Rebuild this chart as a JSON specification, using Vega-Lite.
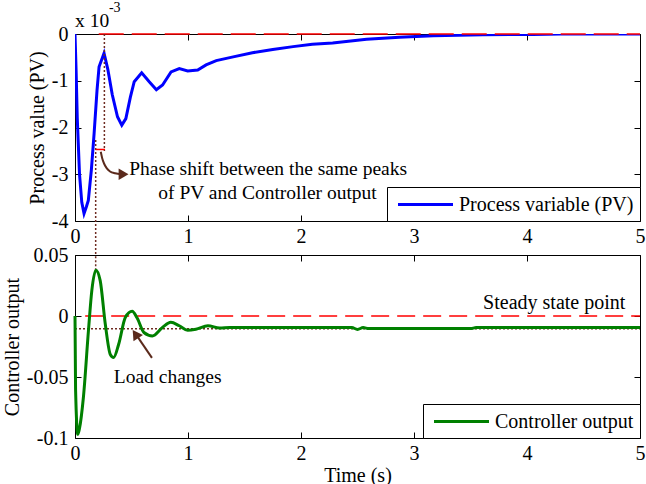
{
  "$schema": "https://vega.github.io/schema/vega-lite/v6.json",
  "background": "white",
  "padding": {"left": 1, "top": 0, "right": 0, "bottom": 0},
  "bounds": "flush",
  "spacing": 34,
  "config": {
    "view": {"stroke": "black", "strokeWidth": 1},
    "font": "Liberation Serif",
    "axis": {
      "labelFont": "Liberation Serif", "titleFont": "Liberation Serif",
      "labelFontSize": 20, "titleFontSize": 20, "titleFontWeight": "normal",
      "labelColor": "black", "titleColor": "black", "tickColor": "black",
      "domain": false, "grid": false, "tickSize": -6, "labelPadding": 13, "titlePadding": 4,
      "labelFlush": false, "labelOverlap": false
    },
    "legend": {
      "orient": "bottom-right", "offset": 0, "fillColor": "white", "strokeColor": "black",
      "padding": 6, "labelFont": "Liberation Serif", "labelFontSize": 20, "labelColor": "black",
      "symbolType": "M-2.75,0H2.75", "symbolStrokeWidth": 3, "symbolSize": 400, "symbolOffset": 21,
      "labelOffset": 22, "cornerRadius": 0, "labelLimit": 400
    }
  },
  "resolve": {"scale": {"color": "independent"}, "legend": {"color": "independent"}},
  "datasets": {
    "pv": [
      {"t": 0, "v": 0}, {"t": 0.01, "v": -0.0008}, {"t": 0.02, "v": -0.0018}, {"t": 0.04, "v": -0.003},
      {"t": 0.06, "v": -0.0036}, {"t": 0.08, "v": -0.00384}, {"t": 0.1, "v": -0.0037}, {"t": 0.118, "v": -0.00356},
      {"t": 0.145, "v": -0.0029}, {"t": 0.169, "v": -0.00213}, {"t": 0.195, "v": -0.0012}, {"t": 0.213, "v": -0.0007},
      {"t": 0.257, "v": -0.00041}, {"t": 0.29, "v": -0.00075}, {"t": 0.33, "v": -0.0013}, {"t": 0.376, "v": -0.00177},
      {"t": 0.414, "v": -0.00195}, {"t": 0.45, "v": -0.00181}, {"t": 0.49, "v": -0.00135}, {"t": 0.524, "v": -0.00102},
      {"t": 0.59, "v": -0.00083}, {"t": 0.657, "v": -0.00102}, {"t": 0.72, "v": -0.00119}, {"t": 0.775, "v": -0.00109},
      {"t": 0.85, "v": -0.00081}, {"t": 0.923, "v": -0.00074}, {"t": 0.997, "v": -0.00079}, {"t": 1.086, "v": -0.00077},
      {"t": 1.16, "v": -0.00066}, {"t": 1.25, "v": -0.00057}, {"t": 1.4, "v": -0.00049}, {"t": 1.57, "v": -0.0004},
      {"t": 1.75, "v": -0.00033}, {"t": 1.93, "v": -0.00027}, {"t": 2.1, "v": -0.00022}, {"t": 2.28, "v": -0.00019},
      {"t": 2.58, "v": -0.00011}, {"t": 2.87, "v": -0.00007}, {"t": 3.17, "v": -0.00004}, {"t": 3.61, "v": -0.000015},
      {"t": 4.05, "v": -0.00001}, {"t": 4.3, "v": 0}, {"t": 5, "v": 0}
    ],
    "co": [
      {"t": 0, "v": 0}, {"t": 0.005, "v": -0.06}, {"t": 0.025, "v": -0.097}, {"t": 0.04, "v": -0.092},
      {"t": 0.074, "v": -0.067}, {"t": 0.119, "v": -0.012}, {"t": 0.149, "v": 0.021}, {"t": 0.185, "v": 0.0376},
      {"t": 0.223, "v": 0.029}, {"t": 0.268, "v": -0.0066}, {"t": 0.3125, "v": -0.0315}, {"t": 0.342, "v": -0.034},
      {"t": 0.387, "v": -0.023}, {"t": 0.446, "v": -0.001}, {"t": 0.506, "v": 0.0039}, {"t": 0.55, "v": -0.0017},
      {"t": 0.61, "v": -0.0135}, {"t": 0.685, "v": -0.0163}, {"t": 0.774, "v": -0.0094}, {"t": 0.848, "v": -0.0052},
      {"t": 0.923, "v": -0.008}, {"t": 0.997, "v": -0.0116}, {"t": 1.07, "v": -0.0108}, {"t": 1.176, "v": -0.008},
      {"t": 1.28, "v": -0.0099}, {"t": 1.369, "v": -0.0094}, {"t": 2.45, "v": -0.0095}, {"t": 2.5, "v": -0.011},
      {"t": 2.55, "v": -0.0095}, {"t": 2.6, "v": -0.0103}, {"t": 3.5, "v": -0.0103}, {"t": 3.55, "v": -0.0095},
      {"t": 5, "v": -0.0095}
    ],
    "topSetpoint": [{"t1": 0.21, "t2": 5, "v": 0}],
    "topDotted": [{"t": 0.26, "v1": 0, "v2": -0.0025}, {"t": 0.183, "v1": -0.00227, "v2": -0.00475}],
    "phaseBar": [{"t1": 0.183, "t2": 0.266, "v": -0.00247}],
    "phaseArrow": [
      {"i": 1, "t": 0.228, "v": -0.00252}, {"i": 2, "t": 0.24, "v": -0.00265}, {"i": 3, "t": 0.257, "v": -0.00277},
      {"i": 4, "t": 0.28, "v": -0.00287}, {"i": 5, "t": 0.31, "v": -0.00294}, {"i": 6, "t": 0.355, "v": -0.00298},
      {"i": 7, "t": 0.41, "v": -0.003}
    ],
    "phaseHead": [{"t": 0.43, "v": -0.003}],
    "phaseText": [
      {"t": 0.48, "v": -0.00289, "text": "Phase shift between the same peaks"},
      {"t": 0.737, "v": -0.0034, "text": "of PV and Controller output"}
    ],
    "multText": [{"t": 0, "v": 0.00027, "text": "x 10"}],
    "expText": [{"t": 0.3, "v": 0.00056, "text": "-3"}],
    "botSetpoint": [{"t1": 0.09, "t2": 5, "v": 0}],
    "botLoad": [{"t1": 0, "t2": 5, "v": -0.0105}],
    "botDotted": [{"t": 0.183, "v1": 0.0376, "v2": 0.05}],
    "loadArrow": [{"i": 1, "t": 0.681, "v": -0.0343}, {"i": 2, "t": 0.55, "v": -0.0165}],
    "loadHead": [{"t": 0.535, "v": -0.0148}],
    "ssText": [{"t": 4.87, "v": 0.011, "text": "Steady state point"}],
    "loadText": [{"t": 0.82, "v": -0.05, "text": "Load changes"}]
  },
  "vconcat": [
    {
      "width": 565, "height": 187,
      "resolve": {"axis": {"x": "independent", "y": "independent"}},
      "layer": [
        {
          "data": {"name": "pv"},
          "mark": {"type": "line", "strokeWidth": 3, "clip": true},
          "encoding": {
            "x": {"field": "t", "type": "quantitative", "scale": {"domain": [0, 5], "nice": false},
                  "axis": {"orient": "bottom", "values": [0, 1, 2, 3, 4, 5], "format": "d", "title": null, "labelPadding": 11}},
            "y": {"field": "v", "type": "quantitative", "scale": {"domain": [-0.004, 0], "nice": false},
                  "axis": {"orient": "left", "values": [-0.004, -0.003, -0.002, -0.001, 0], "title": "Process value (PV)",
                           "labelExpr": "datum.value == 0 ? '0' : '-' + format(abs(datum.value) * 1000, '.0f')"}},
            "color": {"datum": "Process variable (PV)", "type": "nominal", "scale": {"range": ["#0000ff"]}, "legend": {"title": null}}
          }
        },
        {
          "data": {"name": "topSetpoint"},
          "mark": {"type": "rule", "color": "#ff0000", "strokeWidth": 1.5, "strokeDash": [25, 8]},
          "encoding": {
            "x": {"field": "t1", "type": "quantitative", "axis": {"orient": "top", "values": [0, 1, 2, 3, 4, 5], "labels": false, "title": null}},
            "x2": {"field": "t2"},
            "y": {"field": "v", "type": "quantitative", "axis": {"orient": "right", "values": [-0.004, -0.003, -0.002, -0.001, 0], "labels": false, "title": null}}
          }
        },
        {
          "data": {"name": "topDotted"},
          "mark": {"type": "rule", "color": "#6e2c22", "strokeWidth": 1.5, "strokeDash": [2, 2], "clip": false},
          "encoding": {
            "x": {"field": "t", "type": "quantitative", "axis": null},
            "y": {"field": "v1", "type": "quantitative", "axis": null},
            "y2": {"field": "v2"}
          }
        },
        {
          "data": {"name": "phaseBar"},
          "mark": {"type": "rule", "color": "#ff0000", "strokeWidth": 1.5},
          "encoding": {
            "x": {"field": "t1", "type": "quantitative", "axis": null},
            "x2": {"field": "t2"},
            "y": {"field": "v", "type": "quantitative", "axis": null}
          }
        },
        {
          "data": {"name": "phaseArrow"},
          "mark": {"type": "line", "color": "#5b2a1c", "strokeWidth": 2, "interpolate": "monotone"},
          "encoding": {
            "x": {"field": "t", "type": "quantitative", "axis": null},
            "y": {"field": "v", "type": "quantitative", "axis": null},
            "order": {"field": "i"}
          }
        },
        {
          "data": {"name": "phaseHead"},
          "mark": {"type": "point", "shape": "triangle-right", "filled": true, "color": "#5b2a1c", "size": 130, "opacity": 1},
          "encoding": {
            "x": {"field": "t", "type": "quantitative", "axis": null},
            "y": {"field": "v", "type": "quantitative", "axis": null}
          }
        },
        {
          "data": {"name": "phaseText"},
          "mark": {"type": "text", "align": "left", "baseline": "middle", "font": "Liberation Serif", "fontSize": 19.5, "color": "black"},
          "encoding": {
            "x": {"field": "t", "type": "quantitative", "axis": null},
            "y": {"field": "v", "type": "quantitative", "axis": null},
            "text": {"field": "text"}
          }
        },
        {
          "data": {"name": "multText"},
          "mark": {"type": "text", "align": "left", "baseline": "middle", "font": "Liberation Serif", "fontSize": 19.5, "color": "black", "clip": false},
          "encoding": {
            "x": {"field": "t", "type": "quantitative", "axis": null},
            "y": {"field": "v", "type": "quantitative", "axis": null},
            "text": {"field": "text"}
          }
        },
        {
          "data": {"name": "expText"},
          "mark": {"type": "text", "align": "left", "baseline": "middle", "font": "Liberation Serif", "fontSize": 14, "color": "black", "clip": false},
          "encoding": {
            "x": {"field": "t", "type": "quantitative", "axis": null},
            "y": {"field": "v", "type": "quantitative", "axis": null},
            "text": {"field": "text"}
          }
        }
      ]
    },
    {
      "width": 565, "height": 183,
      "resolve": {"axis": {"x": "independent", "y": "independent"}},
      "layer": [
        {
          "data": {"name": "botLoad"},
          "mark": {"type": "rule", "color": "#6e2c22", "strokeWidth": 1.5, "strokeDash": [2, 2]},
          "encoding": {
            "x": {"field": "t1", "type": "quantitative", "scale": {"domain": [0, 5], "nice": false},
                  "axis": {"orient": "bottom", "values": [0, 1, 2, 3, 4, 5], "format": "d", "title": "Time (s)", "titlePadding": 2, "labelPadding": 11}},
            "x2": {"field": "t2"},
            "y": {"field": "v", "type": "quantitative", "scale": {"domain": [-0.1, 0.05], "nice": false},
                  "axis": {"orient": "left", "values": [-0.1, -0.05, 0, 0.05], "title": "Controller output",
                           "labelExpr": "datum.value == 0 ? '0' : (datum.value < 0 ? '-' : '') + format(abs(datum.value), '~g')"}}
          }
        },
        {
          "data": {"name": "botSetpoint"},
          "mark": {"type": "rule", "color": "#ff0000", "strokeWidth": 1.5, "strokeDash": [18, 8]},
          "encoding": {
            "x": {"field": "t1", "type": "quantitative", "axis": {"orient": "top", "values": [0, 1, 2, 3, 4, 5], "labels": false, "title": null}},
            "x2": {"field": "t2"},
            "y": {"field": "v", "type": "quantitative", "axis": {"orient": "right", "values": [-0.1, -0.05, 0, 0.05], "labels": false, "title": null}}
          }
        },
        {
          "data": {"name": "botDotted"},
          "mark": {"type": "rule", "color": "#6e2c22", "strokeWidth": 1.5, "strokeDash": [2, 2]},
          "encoding": {
            "x": {"field": "t", "type": "quantitative", "axis": null},
            "y": {"field": "v1", "type": "quantitative", "axis": null},
            "y2": {"field": "v2"}
          }
        },
        {
          "data": {"name": "co"},
          "mark": {"type": "line", "strokeWidth": 3, "interpolate": "monotone"},
          "encoding": {
            "x": {"field": "t", "type": "quantitative", "axis": null},
            "y": {"field": "v", "type": "quantitative", "axis": null},
            "color": {"datum": "Controller output", "type": "nominal", "scale": {"range": ["#008000"]}, "legend": {"title": null}}
          }
        },
        {
          "data": {"name": "loadArrow"},
          "mark": {"type": "line", "color": "#5b2a1c", "strokeWidth": 2},
          "encoding": {
            "x": {"field": "t", "type": "quantitative", "axis": null},
            "y": {"field": "v", "type": "quantitative", "axis": null},
            "order": {"field": "i"}
          }
        },
        {
          "data": {"name": "loadHead"},
          "mark": {"type": "point", "shape": "triangle-up", "angle": -34, "filled": true, "color": "#5b2a1c", "size": 130, "opacity": 1},
          "encoding": {
            "x": {"field": "t", "type": "quantitative", "axis": null},
            "y": {"field": "v", "type": "quantitative", "axis": null}
          }
        },
        {
          "data": {"name": "ssText"},
          "mark": {"type": "text", "align": "right", "baseline": "middle", "font": "Liberation Serif", "fontSize": 20, "color": "black"},
          "encoding": {
            "x": {"field": "t", "type": "quantitative", "axis": null},
            "y": {"field": "v", "type": "quantitative", "axis": null},
            "text": {"field": "text"}
          }
        },
        {
          "data": {"name": "loadText"},
          "mark": {"type": "text", "align": "center", "baseline": "middle", "font": "Liberation Serif", "fontSize": 19.5, "color": "black"},
          "encoding": {
            "x": {"field": "t", "type": "quantitative", "axis": null},
            "y": {"field": "v", "type": "quantitative", "axis": null},
            "text": {"field": "text"}
          }
        }
      ]
    }
  ]
}
